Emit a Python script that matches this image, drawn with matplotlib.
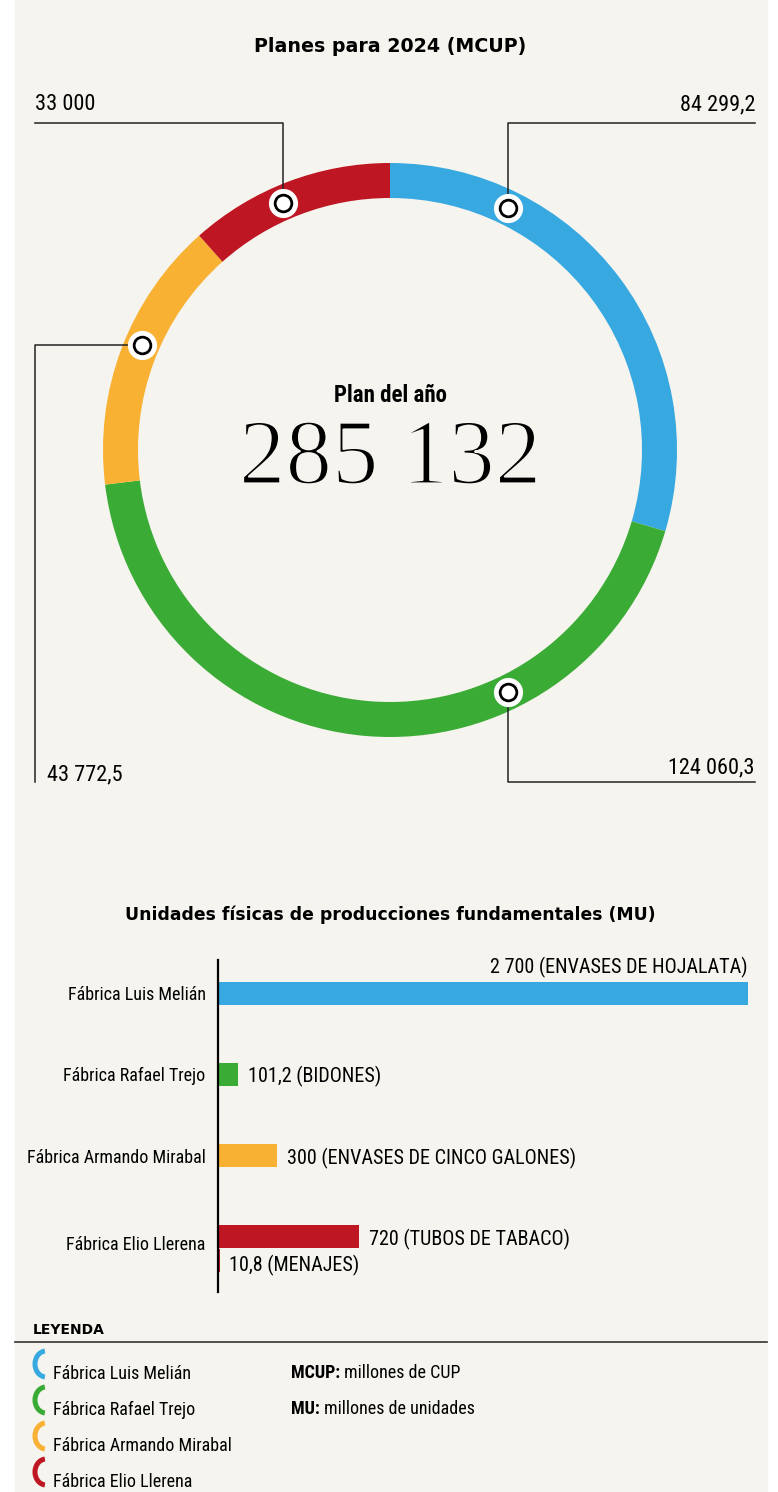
import numpy as np
import matplotlib
matplotlib.use("Agg")
import matplotlib.pyplot as plt
from matplotlib import font_manager
from matplotlib import patheffects as pe
from matplotlib.patches import Rectangle, Arc

# ---- data ----
factories = ["Fábrica Luis Melián", "Fábrica Rafael Trejo",
             "Fábrica Armando Mirabal", "Fábrica Elio Llerena"]
colors = ["#38a9e0", "#3aab35", "#f8b133", "#be1622"]
plan_values = [84299.2, 124060.3, 43772.5, 33000]
plan_labels = ["84 299,2", "124 060,3", "43 772,5", "33 000"]
plan_total = "285 132"

units_values = [2700, 101.2, 300, 720]
units_labels = ["2 700 (ENVASES DE HOJALATA)", "101,2 (BIDONES)",
                "300 (ENVASES DE CINCO GALONES)", "720 (TUBOS DE TABACO)"]
extra_value = 10.8
extra_label = "10,8 (MENAJES)"

available = {f.name for f in font_manager.fontManager.ttflist}
def pick(*names):
    for n in names:
        if n in available:
            return n
    return "DejaVu Sans"

COND = pick("Liberation Sans Narrow", "Roboto Condensed", "Roboto")
BOLD = "DejaVu Sans"
SERIF = pick("Liberation Serif", "DejaVu Serif")

BG = "#f5f4ee"
W, H = 778, 1492
fig = plt.figure(figsize=(W / 100, H / 100), dpi=100, facecolor="white")

# overlay in pixel coordinates
ov = fig.add_axes([0, 0, 1, 1], zorder=0)
ov.set_xlim(0, W)
ov.set_ylim(H, 0)
ov.axis("off")
ov.add_patch(Rectangle((15, 0), 752, H, color=BG, zorder=0))

ov.text(390, 47, "Planes para 2024 (MCUP)", fontsize=13.7, fontweight="bold",
        family=BOLD, ha="center", va="center")

# ---- donut ----
cx, cy, R = 390, 450, 287
axp = fig.add_axes([(cx - R) / W, (H - cy - R) / H, 2 * R / W, 2 * R / H], zorder=2)
ring = 35 / R
axp.pie(plan_values, colors=colors, startangle=90, counterclock=False,
        wedgeprops=dict(width=ring, linewidth=0))
axp.set_xlim(-1, 1)
axp.set_ylim(-1, 1)
axp.set_aspect("equal")
axp.axis("off")

def px(x):
    return (x - cx) / R

def py(y):
    return (cy - y) / R

rm = 1 - ring / 2
marker_ang = {0: 64, 1: -64, 2: 157, 3: 113.4}
lc = "#222222"
fs_lab = 16
for i, ang in marker_ang.items():
    mx, my = rm * np.cos(np.radians(ang)), rm * np.sin(np.radians(ang))
    if i == 0:      # blue: up then right
        xs, ys = [mx, mx, px(755)], [my, py(123), py(123)]
        axp.text(px(755), py(105), plan_labels[i], ha="right", va="center",
                 fontsize=fs_lab, family=COND)
    elif i == 1:    # green: down then right
        xs, ys = [mx, mx, px(755)], [my, py(782), py(782)]
        axp.text(px(755), py(768), plan_labels[i], ha="right", va="center",
                 fontsize=fs_lab, family=COND)
    elif i == 2:    # yellow: left then down
        xs, ys = [mx, px(35), px(35)], [my, my, py(782)]
        axp.text(px(47), py(775), plan_labels[i], ha="left", va="center",
                 fontsize=fs_lab, family=COND)
    else:           # red: up then left
        xs, ys = [mx, mx, px(35)], [my, py(123), py(123)]
        axp.text(px(35), py(105), plan_labels[i], ha="left", va="center",
                 fontsize=fs_lab, family=COND)
    axp.plot(xs, ys, color=lc, lw=1.1, clip_on=False, zorder=3)
    axp.plot(mx, my, "o", ms=21, mfc="white", mec="none", zorder=4, clip_on=False)
    axp.plot(mx, my, "o", ms=12, mfc="white", mec="black", mew=2, zorder=5,
             clip_on=False)

axp.text(0, py(396), "Plan del año", ha="center", va="center", fontsize=16.5,
         fontweight="bold", family=COND)
axp.text(0, py(461), plan_total, ha="center", va="center", fontsize=67,
         family=SERIF,
         path_effects=[pe.Normal(), pe.Stroke(linewidth=1.6, foreground=BG)])

# ---- bars ----
ov.text(390, 915, "Unidades físicas de producciones fundamentales (MU)",
        fontsize=12.4, fontweight="bold", family=BOLD, ha="center", va="center")

top, bot, x0, x1 = 960, 1292, 218, 748
axb = fig.add_axes([x0 / W, (H - bot) / H, (x1 - x0) / W, (bot - top) / H], zorder=2)
axb.patch.set_visible(False)
ypos = [3, 2, 1, 0]
bh = 23 / 81
axb.barh(ypos, units_values, height=bh, color=colors)
axb.barh([-24 / 81], [extra_value], height=bh, color=colors[3])
axb.set_xlim(0, 2700)
axb.set_ylim(-(bot - 1237) / 81, 3 + (993 - top) / 81)
for s in ["top", "right", "bottom"]:
    axb.spines[s].set_visible(False)
axb.spines["left"].set_linewidth(1.6)
axb.set_xticks([])
axb.set_yticks([3, 2, 1, -0.07])
axb.set_yticklabels(factories, family=COND, fontsize=13)
axb.tick_params(axis="y", length=0, pad=9)

fs_val = 14.5
for i, (v, lab) in enumerate(zip(units_values, units_labels)):
    if i == 0:
        axb.text(v, ypos[i] + 0.31, lab, ha="right", va="center", fontsize=fs_val,
                 family=COND)
    else:
        axb.text(v + 50, ypos[i] - 0.03, lab, ha="left", va="center",
                 fontsize=fs_val, family=COND)
axb.text(extra_value + 45, -24 / 81 - 0.05, extra_label, ha="left", va="center",
         fontsize=fs_val, family=COND)

# ---- legend ----
ov.text(33, 1330, "LEYENDA", fontsize=10, fontweight="bold", family=BOLD,
        ha="left", va="center")
ov.plot([15, 767], [1342, 1342], color="#333333", lw=1.2)
for k, (name, c) in enumerate(zip(factories, colors)):
    yc = 1364 + 36 * k
    ov.add_patch(Arc((46, yc), 22, 26, theta1=95, theta2=265, color=c, lw=3.6))
    ov.text(53, yc + 10, name, fontsize=13, family=COND, ha="left", va="center")

fig.canvas.draw()
r = fig.canvas.get_renderer()
for k, (b, t) in enumerate([("MCUP:", " millones de CUP"),
                            ("MU:", " millones de unidades")]):
    yc = 1373 + 36 * k
    tb = ov.text(291, yc, b, fontsize=13, fontweight="bold", family=COND,
                 ha="left", va="center")
    ext = tb.get_window_extent(r)
    xend = ov.transData.inverted().transform((ext.x1, ext.y0))[0]
    ov.text(xend, yc, t, fontsize=13, family=COND, ha="left", va="center")

fig.savefig("out.png", dpi=100, facecolor="white")
